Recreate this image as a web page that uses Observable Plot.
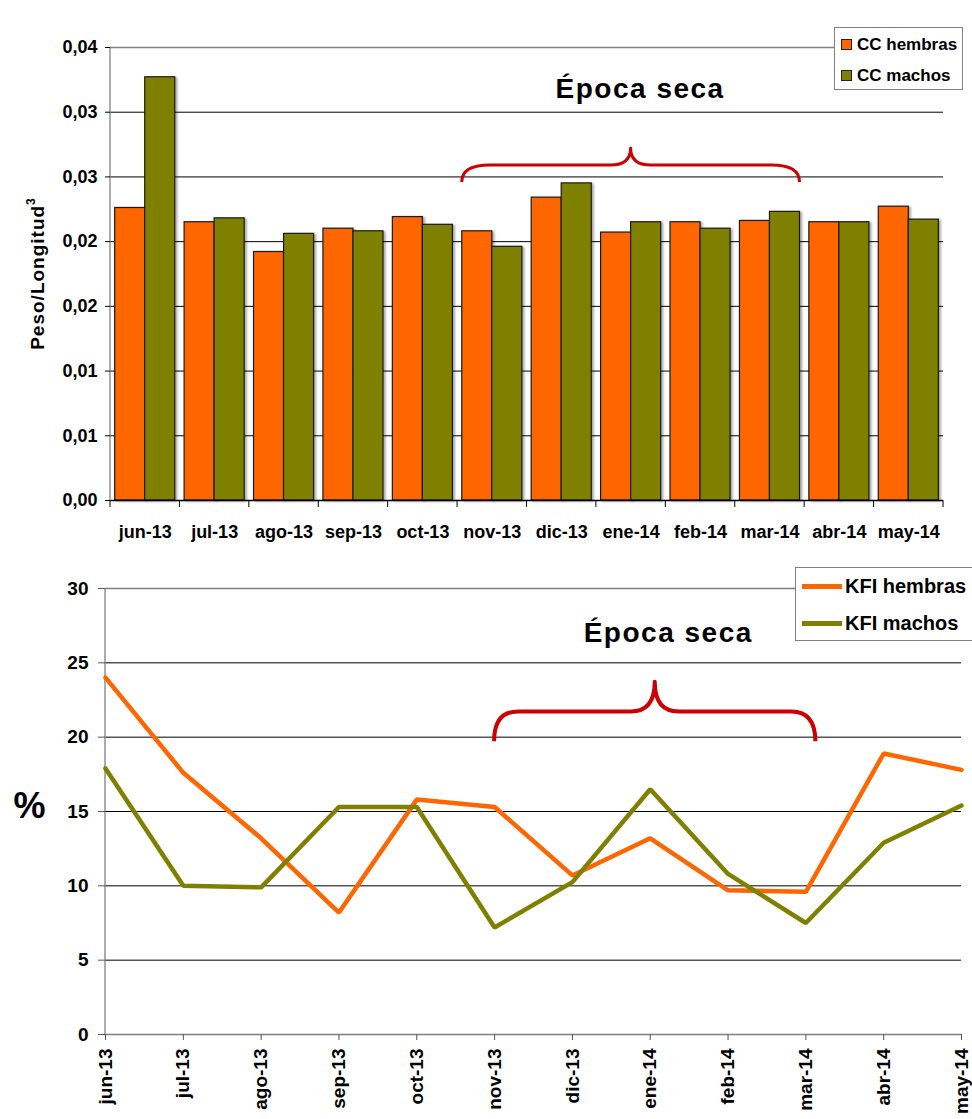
<!DOCTYPE html>
<html>
<head>
<meta charset="utf-8">
<script src="https://cdn.jsdelivr.net/npm/d3@7"></script>
<script src="https://cdn.jsdelivr.net/npm/@observablehq/plot@0.6"></script>
<style>
  html, body { margin: 0; padding: 0; background: #fff; overflow: hidden; }
  body { font-family: "Liberation Sans", Arial, sans-serif; }
  #wrap { position: relative; width: 972px; height: 1119px; overflow: hidden; }
  #cc { position: absolute; left: 0; top: 0; }
  #kfi { position: absolute; left: 0; top: 550px; }
  #cc g[aria-label="bar"] { filter: drop-shadow(2px 1px 1px rgba(0,0,0,0.35)); }
  .legend { position: absolute; background: #fff; border: 1.5px solid #808080; box-sizing: border-box;
            font-weight: bold; color: #000; }
  .legend .row { position: absolute; left: 0; display: flex; align-items: center; white-space: nowrap; }
  .legend .sq { width: 9px; height: 9px; border: 1px solid #222; margin-left: 6px; margin-right: 5px; }
  .legend .ln { width: 40px; height: 5px; margin-left: 6px; margin-right: 3px; }
</style>
</head>
<body>
<div id="wrap">
  <div id="cc"></div>
  <div id="kfi"></div>
</div>
<script>
// Months of the sampling year
const months = ["jun-13","jul-13","ago-13","sep-13","oct-13","nov-13","dic-13","ene-14","feb-14","mar-14","abr-14","may-14"];

// Condition coefficient (peso / longitud^3) by sex
const ccHembras = [0.0226, 0.0215, 0.0192, 0.0210, 0.0219, 0.0208, 0.0234, 0.0207, 0.0215, 0.0216, 0.0215, 0.0227];
const ccMachos  = [0.0327, 0.0218, 0.0206, 0.0208, 0.0213, 0.0196, 0.0245, 0.0215, 0.0210, 0.0223, 0.0215, 0.0217];
const ccTicks = [0, 0.005, 0.01, 0.015, 0.02, 0.025, 0.03, 0.035];
const ccTickLabels = ["0,00", "0,01", "0,01", "0,02", "0,02", "0,03", "0,03", "0,04"];
const ccSeries = ["CC hembras", "CC machos"];
const ccAxisLabel = "Peso/Longitud";
const ccAxisLabelSup = "3";

// KFI (%) by sex
const kfiHembras = [24.0, 17.6, 13.2, 8.2, 15.8, 15.3, 10.7, 13.2, 9.7, 9.6, 18.9, 17.8];
const kfiMachos  = [17.9, 10.0, 9.9, 15.3, 15.3, 7.2, 10.25, 16.5, 10.8, 7.5, 12.9, 15.4];
const kfiTicks = [0, 5, 10, 15, 20, 25, 30];
const kfiSeries = ["KFI hembras", "KFI machos"];
const kfiAxisLabel = "%";

const seriesColors = ["#FF6600", "#808000"];
const braceColor = "#CC0000";

// Dry season annotation
const seasonLabel = "Época seca";
const seasonFrom = "nov-13";
const seasonTo = "mar-14";
const ccBrace = {base: 0.02457, flat: 0.02588, peak: 0.0272};
const kfiBrace = {base: 19.7, flat: 21.7, peak: 23.7};

const FONT = "'Liberation Sans', Arial, sans-serif";

// Curly brace spanning two x positions, drawn with the plot's scales
function braceMark({from, to, extend = 0, base, flat, peak, r, rPeak, width}) {
  return (index, scales) => {
    const sx = scales.x, sy = scales.y;
    let bw = 0;
    if (typeof sx.bandwidth === "function") bw = sx.bandwidth();
    else if (scales.scales && scales.scales.x && scales.scales.x.bandwidth) bw = scales.scales.x.bandwidth;
    const x0 = sx(from), x1 = sx(to) + bw + extend, xm = (x0 + x1) / 2;
    const yb = sy(base), yf = sy(flat), yp = sy(peak);
    const d = `M${x0},${yb} Q${x0},${yf} ${x0 + r},${yf} L${xm - rPeak},${yf} Q${xm},${yf} ${xm},${yp}`
            + ` Q${xm},${yf} ${xm + rPeak},${yf} L${x1 - r},${yf} Q${x1},${yf} ${x1},${yb}`;
    return d3.create("svg:path")
      .attr("d", d).attr("fill", "none").attr("stroke", braceColor)
      .attr("stroke-width", width).attr("stroke-linejoin", "round")
      .node();
  };
}

// Vertical axis line on the left edge of the frame
function leftLine(stroke) {
  return (index, scales, values, dims) =>
    d3.create("svg:line")
      .attr("x1", dims.marginLeft).attr("x2", dims.marginLeft)
      .attr("y1", dims.marginTop).attr("y2", dims.height - dims.marginBottom)
      .attr("stroke", stroke).attr("stroke-width", 1.3)
      .node();
}

// Category boundary ticks under the band axis
function bandBoundaryTicks(n, size) {
  return (index, scales, values, dims) => {
    const g = d3.create("svg:g").attr("stroke", "#000").attr("stroke-width", 1);
    const x0 = dims.marginLeft, x1 = dims.width - dims.marginRight;
    const y = dims.height - dims.marginBottom;
    for (let i = 0; i <= n; i++) {
      const x = x0 + i * (x1 - x0) / n;
      g.append("line").attr("x1", x).attr("x2", x).attr("y1", y).attr("y2", y + size);
    }
    return g.node();
  };
}

// Rotated y-axis title with a superscript, centred on the frame
function rotatedAxisTitle(main, sup, {dx, fontSize, supSize, spacing}) {
  return (index, scales, values, dims) => {
    const cx = dims.marginLeft + dx;
    const cy = (dims.marginTop + dims.height - dims.marginBottom) / 2;
    const t = d3.create("svg:text")
      .attr("transform", `translate(${cx},${cy}) rotate(-90)`)
      .attr("text-anchor", "middle").attr("dy", "0.35em")
      .attr("font-size", fontSize).attr("font-weight", "bold")
      .attr("letter-spacing", spacing).attr("fill", "#000");
    t.append("tspan").text(main);
    t.append("tspan").attr("dy", -fontSize * 0.45).attr("font-size", supSize).text(sup);
    return t.node();
  };
}

// ---------- Upper chart: CC bars ----------
const ccW = 972, ccH = 550;
const ccMargin = {top: 47, right: 29, bottom: 50, left: 110};
const padInner = 0.135;
const bandStep = (ccW - ccMargin.left - ccMargin.right) / months.length;
const bandWidth = bandStep * (1 - padInner);

const ccRows = months.map((m, i) => ({month: m, hembras: ccHembras[i], machos: ccMachos[i]}));

const ccPlot = Plot.plot({
  width: ccW,
  height: ccH,
  marginTop: ccMargin.top,
  marginRight: ccMargin.right,
  marginBottom: ccMargin.bottom,
  marginLeft: ccMargin.left,
  style: {fontFamily: FONT, fontSize: "18px", fontWeight: "bold", color: "#000", background: "#fff", overflow: "visible"},
  x: {type: "band", domain: months, paddingInner: padInner, paddingOuter: padInner / 2, round: false, align: 0.5},
  y: {domain: [0, 0.035]},
  marks: [
    Plot.gridY(ccTicks.slice(1, -1), {stroke: "#000", strokeOpacity: 1, strokeWidth: 1}),
    Plot.ruleY([0.035], {stroke: "#808080", strokeWidth: 1.3}),
    Plot.barY(ccRows, {x: "month", y: "hembras", fill: seriesColors[0], stroke: "#1a1a1a", strokeWidth: 1.2, insetRight: bandWidth / 2}),
    Plot.barY(ccRows, {x: "month", y: "machos", fill: seriesColors[1], stroke: "#1a1a1a", strokeWidth: 1.2, insetLeft: bandWidth / 2}),
    Plot.ruleY([0], {stroke: "#000", strokeWidth: 1.3}),
    leftLine("#808080"),
    bandBoundaryTicks(months.length, 7),
    Plot.axisY(ccTicks, {tickFormat: d => ccTickLabels[ccTicks.indexOf(d)], tickSize: 5, tickPadding: 8, label: null, fontSize: 18, fontWeight: "bold", stroke: "#000"}),
    Plot.axisX({tickSize: 0, tickPadding: 25, label: null, fontSize: 18, fontWeight: "bold"}),
    braceMark({from: seasonFrom, to: seasonTo, ...ccBrace, r: 28, rPeak: 20, width: 3}),
    Plot.text([seasonLabel], {x: ["ene-14"], y: [0.03176], dx: 9, text: d => d, fontSize: 28, fontWeight: "bold", fill: "#000"}),
    rotatedAxisTitle(ccAxisLabel, ccAxisLabelSup, {dx: -73, fontSize: 19, supSize: 12, spacing: 1})
  ]
});
document.getElementById("cc").appendChild(ccPlot);

// ---------- Lower chart: KFI lines ----------
const kfiW = 972, kfiH = 569;
const kfiPlot = Plot.plot({
  width: kfiW,
  height: kfiH,
  marginTop: 38,
  marginRight: 11,
  marginBottom: 85,
  marginLeft: 105,
  style: {fontFamily: FONT, fontSize: "19px", fontWeight: "bold", color: "#000", background: "#fff", overflow: "visible"},
  x: {type: "point", domain: months, padding: 0, round: false},
  y: {domain: [0, 30]},
  marks: [
    Plot.gridY([5, 10, 15, 20, 25], {stroke: "#000", strokeOpacity: 1, strokeWidth: 1}),
    Plot.ruleY([30], {stroke: "#808080", strokeWidth: 1.3}),
    Plot.ruleY([0], {stroke: "#808080", strokeWidth: 1.5}),
    leftLine("#808080"),
    Plot.lineY(kfiHembras, {x: (d, i) => months[i], y: d => d, stroke: seriesColors[0], strokeWidth: 4.5, strokeLinejoin: "miter"}),
    Plot.lineY(kfiMachos, {x: (d, i) => months[i], y: d => d, stroke: seriesColors[1], strokeWidth: 4.5, strokeLinejoin: "miter"}),
    Plot.axisY(kfiTicks, {tickSize: 7, tickPadding: 10, label: null, fontSize: 19, fontWeight: "bold", stroke: "#555"}),
    Plot.axisX({tickSize: 6, tickPadding: 8, tickRotate: -90, label: null, fontSize: 19, fontWeight: "bold", stroke: "#555"}),
    braceMark({from: seasonFrom, to: seasonTo, extend: 10, ...kfiBrace, r: 24, rPeak: 24, width: 4}),
    Plot.text([seasonLabel], {x: ["ene-14"], y: [27.0], dx: 18, text: d => d, fontSize: 28, fontWeight: "bold", fill: "#000"}),
    Plot.text([kfiAxisLabel], {frameAnchor: "left", textAnchor: "middle", dx: -76, dy: -5, text: d => d, fontSize: 36, fontWeight: "bold", fill: "#000"})
  ]
});
document.getElementById("kfi").appendChild(kfiPlot);

// Wider tracking on the season titles
for (const svg of [ccPlot, kfiPlot]) {
  d3.select(svg).selectAll("text")
    .filter(function () { return this.textContent === seasonLabel; })
    .attr("letter-spacing", "1.5px");
}

// ---------- Legends ----------
function legend(parent, {left, top, width, height, names, rowY, fontSize, swatch}) {
  const box = document.createElement("div");
  box.className = "legend";
  Object.assign(box.style, {left: left + "px", top: top + "px", width: width + "px", height: height + "px", fontSize: fontSize + "px"});
  names.forEach((name, i) => {
    const row = document.createElement("div");
    row.className = "row";
    row.style.top = (rowY[i] - fontSize * 0.6) + "px";
    row.style.height = (fontSize * 1.2) + "px";
    const sw = document.createElement("div");
    sw.className = swatch;
    sw.style.background = seriesColors[i];
    const label = document.createElement("span");
    label.textContent = name;
    row.appendChild(sw);
    row.appendChild(label);
    box.appendChild(row);
  });
  parent.appendChild(box);
}
const wrap = document.getElementById("wrap");
legend(wrap, {left: 834, top: 27, width: 129, height: 63, names: ccSeries, rowY: [17, 48], fontSize: 17, swatch: "sq"});
legend(wrap, {left: 795, top: 567, width: 200, height: 74, names: kfiSeries, rowY: [18, 55], fontSize: 20, swatch: "ln"});
</script>
</body>
</html>
